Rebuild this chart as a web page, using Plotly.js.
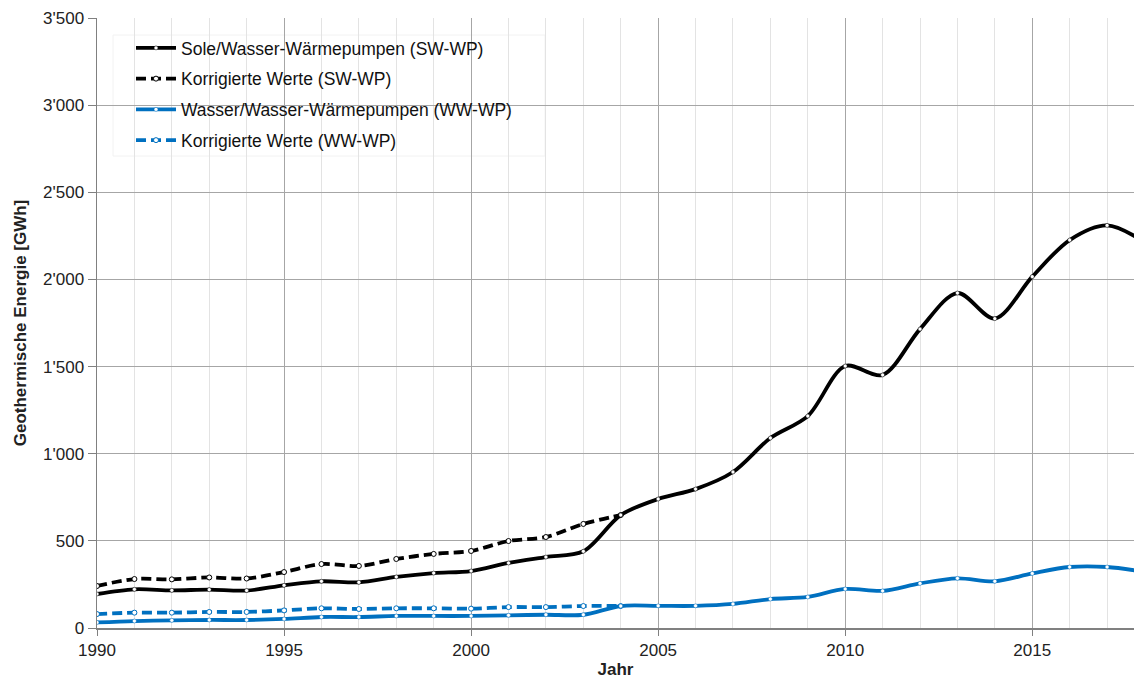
<!DOCTYPE html>
<html>
<head>
<meta charset="utf-8">
<script src="https://cdn.plot.ly/plotly-3.0.1.min.js"></script>
<style>html,body{margin:0;padding:0;background:#fff;}#chart{width:1134px;height:679px;}</style>
</head>
<body>
<div id="chart"></div>
<script>
const years = [1990,1991,1992,1993,1994,1995,1996,1997,1998,1999,2000,2001,2002,2003,2004,2005,2006,2007,2008,2009,2010,2011,2012,2013,2014,2015,2016,2017,2018];
const swWP = [195,222,216,220,215,245,268,262,293,315,327,373,407,440,648,740,797,895,1090,1216,1503,1452,1715,1922,1775,2016,2226,2310,2215];
const yearsKorr = [1990,1991,1992,1993,1994,1995,1996,1997,1998,1999,2000,2001,2002,2003,2004];
const swKorr = [241,281,279,290,284,321,367,356,396,425,442,499,522,597,648];
const wwWP = [32,40,44,46,46,52,63,63,69,69,69,73,76,76,126,127,127,138,166,178,224,213,256,285,268,313,350,350,322];
const wwKorr = [80,88,88,92,92,101,113,109,113,113,111,120,120,126,126];
const names = ['Sole/Wasser-Wärmepumpen (SW-WP)','Korrigierte Werte (SW-WP)','Wasser/Wasser-Wärmepumpen (WW-WP)','Korrigierte Werte (WW-WP)'];

const black = '#000000', blue = '#0070C0';
function tr(x, y, name, color, dash, rank, group){
  return {
    x: x, y: y, name: name, type: 'scatter', mode: 'lines+markers',
    line: {color: color, width: 3.8, dash: dash, shape: 'spline', smoothing: 0.9},
    marker: {size: dash === 'solid' ? 4 : 5, color: '#ffffff', line: {color: color, width: dash === 'solid' ? 0.5 : 1}},
    legendrank: rank, legendgroup: group
  };
}
const data = [
  tr(yearsKorr, wwKorr, names[3], blue, '10px,5px', 4, 'd'),
  tr(years, wwWP, names[2], blue, 'solid', 3, 'c'),
  tr(yearsKorr, swKorr, names[1], black, '10px,5px', 2, 'b'),
  tr(years, swWP, names[0], black, 'solid', 1, 'a')
];
const font = 'Liberation Sans, Arial, sans-serif';
const L = 97, T = 18, W = 1037, H = 610;
const px = v => (v - L) / W, py = v => 1 - (v - T) / H;
const layout = {
  width: 1134, height: 679,
  margin: {l: L, r: 0, t: T, b: 51},
  paper_bgcolor: '#fff', plot_bgcolor: '#fff',
  separators: ".'",
  font: {family: font, size: 17, color: '#222'},
  showlegend: true,
  legend: {
    x: px(131), y: py(30), xanchor: 'left', yanchor: 'top',
    bgcolor: 'rgba(255,255,255,0)', borderwidth: 0,
    font: {family: font, size: 17.5, color: '#111'},
    itemwidth: 40, tracegroupgap: 5, traceorder: 'grouped'
  },
  shapes: [{
    type: 'rect', xref: 'paper', yref: 'paper', layer: 'between',
    x0: px(113), x1: px(545), y0: py(156), y1: py(35),
    fillcolor: '#ffffff', line: {color: '#f2f2f2', width: 1}
  }],
  xaxis: {
    range: [1990, 2017.72], dtick: 5, tick0: 1990,
    showgrid: true, gridcolor: '#a6a6a6', gridwidth: 1,
    minor: {dtick: 1, tick0: 1990, showgrid: true, gridcolor: '#e3e3e3', gridwidth: 1},
    showline: true, linecolor: '#808080', linewidth: 1.5,
    ticks: 'outside', ticklen: 6, tickcolor: '#808080',
    tickfont: {family: font, size: 17, color: '#222'},
    zeroline: false, automargin: false,
    title: {text: '<b>Jahr</b>', font: {family: font, size: 17, color: '#222'}, standoff: 9}
  },
  yaxis: {
    range: [0, 3500], dtick: 500, separatethousands: true,
    showgrid: true, gridcolor: '#a6a6a6', gridwidth: 1,
    showline: true, linecolor: '#808080', linewidth: 1.5,
    ticks: 'outside', ticklen: 8, tickcolor: '#808080',
    tickfont: {family: font, size: 17, color: '#222'},
    zeroline: false, automargin: false,
    title: {text: '<b>Geothermische Energie [GWh]</b>', font: {family: font, size: 17, color: '#222'}, standoff: 12}
  }
};
Plotly.newPlot('chart', data, layout, {displayModeBar: false, staticPlot: true});
</script>
</body>
</html>
